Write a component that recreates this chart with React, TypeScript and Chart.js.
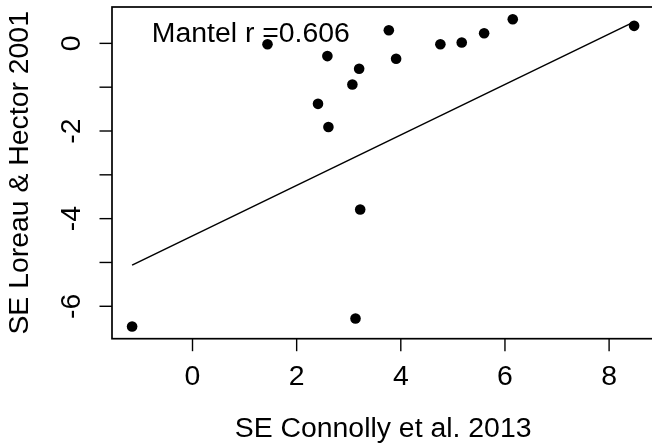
import { useEffect, useRef } from "react";
import { Chart, registerables } from "chart.js";

Chart.register(...registerables);

// Standardised effects: Connolly et al. 2013 (x) vs Loreau & Hector 2001 (y)
const connollySE = [1.44, 2.59, 3.77, 3.91, 3.2, 3.07, 2.41, 4.76, 5.17, 5.6, 6.15, 8.48, 2.61, 3.22, 3.13, -1.16];
const loreauHectorSE = [-0.02, -0.29, 0.3, -0.35, -0.58, -0.94, -1.38, -0.02, 0.02, 0.23, 0.55, 0.4, -1.91, -3.79, -6.28, -6.46];

// Fitted line, end points at the data extremes
const fitX = [-1.16, 8.48];
const fitY = [-5.06, 0.49];

// Axis ticks
const xTicks = [0, 2, 4, 6, 8];
const yTicks = [-6, -5, -4, -3, -2, -1, 0];
const yTickLabels = ["-6", "", "-4", "", "-2", "", "0"];

const xTitle = "SE Connolly et al. 2013";
const yTitle = "SE Loreau & Hector 2001";
const mantelText = "Mantel r =0.606";
const mantelPos = { x: 1.12, y: 0.22 };

const FONT = "28.4px 'Liberation Sans', Arial, Helvetica, sans-serif";

const baseAxesPlugin = {
  id: "baseAxes",
  afterDraw(chart: any) {
    const { ctx, chartArea, scales } = chart;
    const xs = scales.x;
    const ys = scales.y;
    ctx.save();
    ctx.strokeStyle = "#000";
    ctx.fillStyle = "#000";
    ctx.lineWidth = 1.7;
    // plot box
    ctx.strokeRect(chartArea.left, chartArea.top, chartArea.right - chartArea.left, chartArea.bottom - chartArea.top);

    const tickLen = 12.5;
    ctx.lineWidth = 1.4;
    ctx.font = FONT;

    // x axis
    ctx.textAlign = "center";
    ctx.textBaseline = "alphabetic";
    xTicks.forEach((v) => {
      const px = xs.getPixelForValue(v);
      ctx.beginPath();
      ctx.moveTo(px, chartArea.bottom);
      ctx.lineTo(px, chartArea.bottom + tickLen);
      ctx.stroke();
      ctx.fillText(String(v), px, chartArea.bottom + 46.5);
    });
    ctx.fillText(xTitle, (chartArea.left + chartArea.right) / 2, chartArea.bottom + 98);

    // y axis
    yTicks.forEach((v, i) => {
      const py = ys.getPixelForValue(v);
      ctx.beginPath();
      ctx.moveTo(chartArea.left, py);
      ctx.lineTo(chartArea.left - tickLen, py);
      ctx.stroke();
      const lab = yTickLabels[i];
      if (lab) {
        ctx.save();
        ctx.translate(chartArea.left - 32, py);
        ctx.rotate(-Math.PI / 2);
        ctx.fillText(lab, 0, 0);
        ctx.restore();
      }
    });
    ctx.save();
    ctx.translate(chartArea.left - 84, (chartArea.top + chartArea.bottom) / 2);
    ctx.rotate(-Math.PI / 2);
    ctx.fillText(yTitle, 0, 0);
    ctx.restore();

    // Mantel statistic
    ctx.textAlign = "center";
    ctx.textBaseline = "middle";
    ctx.fillText(mantelText, xs.getPixelForValue(mantelPos.x), ys.getPixelForValue(mantelPos.y));
    ctx.restore();
  },
};

export default function App() {
  const canvasRef = useRef<HTMLCanvasElement | null>(null);

  useEffect(() => {
    if (!canvasRef.current) return;
    const points = connollySE.map((x, i) => ({ x, y: loreauHectorSE[i] }));
    const fit = fitX.map((x, i) => ({ x, y: fitY[i] }));
    const chart = new Chart(canvasRef.current, {
      type: "scatter",
      data: {
        datasets: [
          {
            type: "line",
            data: fit,
            borderColor: "#000",
            borderWidth: 1.5,
            pointRadius: 0,
            fill: false,
          },
          {
            type: "scatter",
            data: points,
            backgroundColor: "#000",
            borderWidth: 0,
            pointRadius: 5.3,
          },
        ],
      },
      options: {
        responsive: false,
        animation: false,
        devicePixelRatio: 1,
        layout: { padding: { left: 112, top: 7, right: 5.8, bottom: 107.3 } },
        plugins: { legend: { display: false }, tooltip: { enabled: false } },
        scales: {
          x: { type: "linear", min: -1.546, max: 8.866, display: false },
          y: { type: "linear", min: -6.74, max: 0.83, display: false },
        },
      },
      plugins: [baseAxesPlugin],
    } as any);
    return () => chart.destroy();
  }, []);

  return (
    <div style={{ position: "fixed", left: 0, top: 0, width: 652, height: 446, overflow: "hidden", background: "#fff" }}>
      <canvas ref={canvasRef} width={660} height={446} style={{ width: 660, height: 446, display: "block" }} />
    </div>
  );
}
